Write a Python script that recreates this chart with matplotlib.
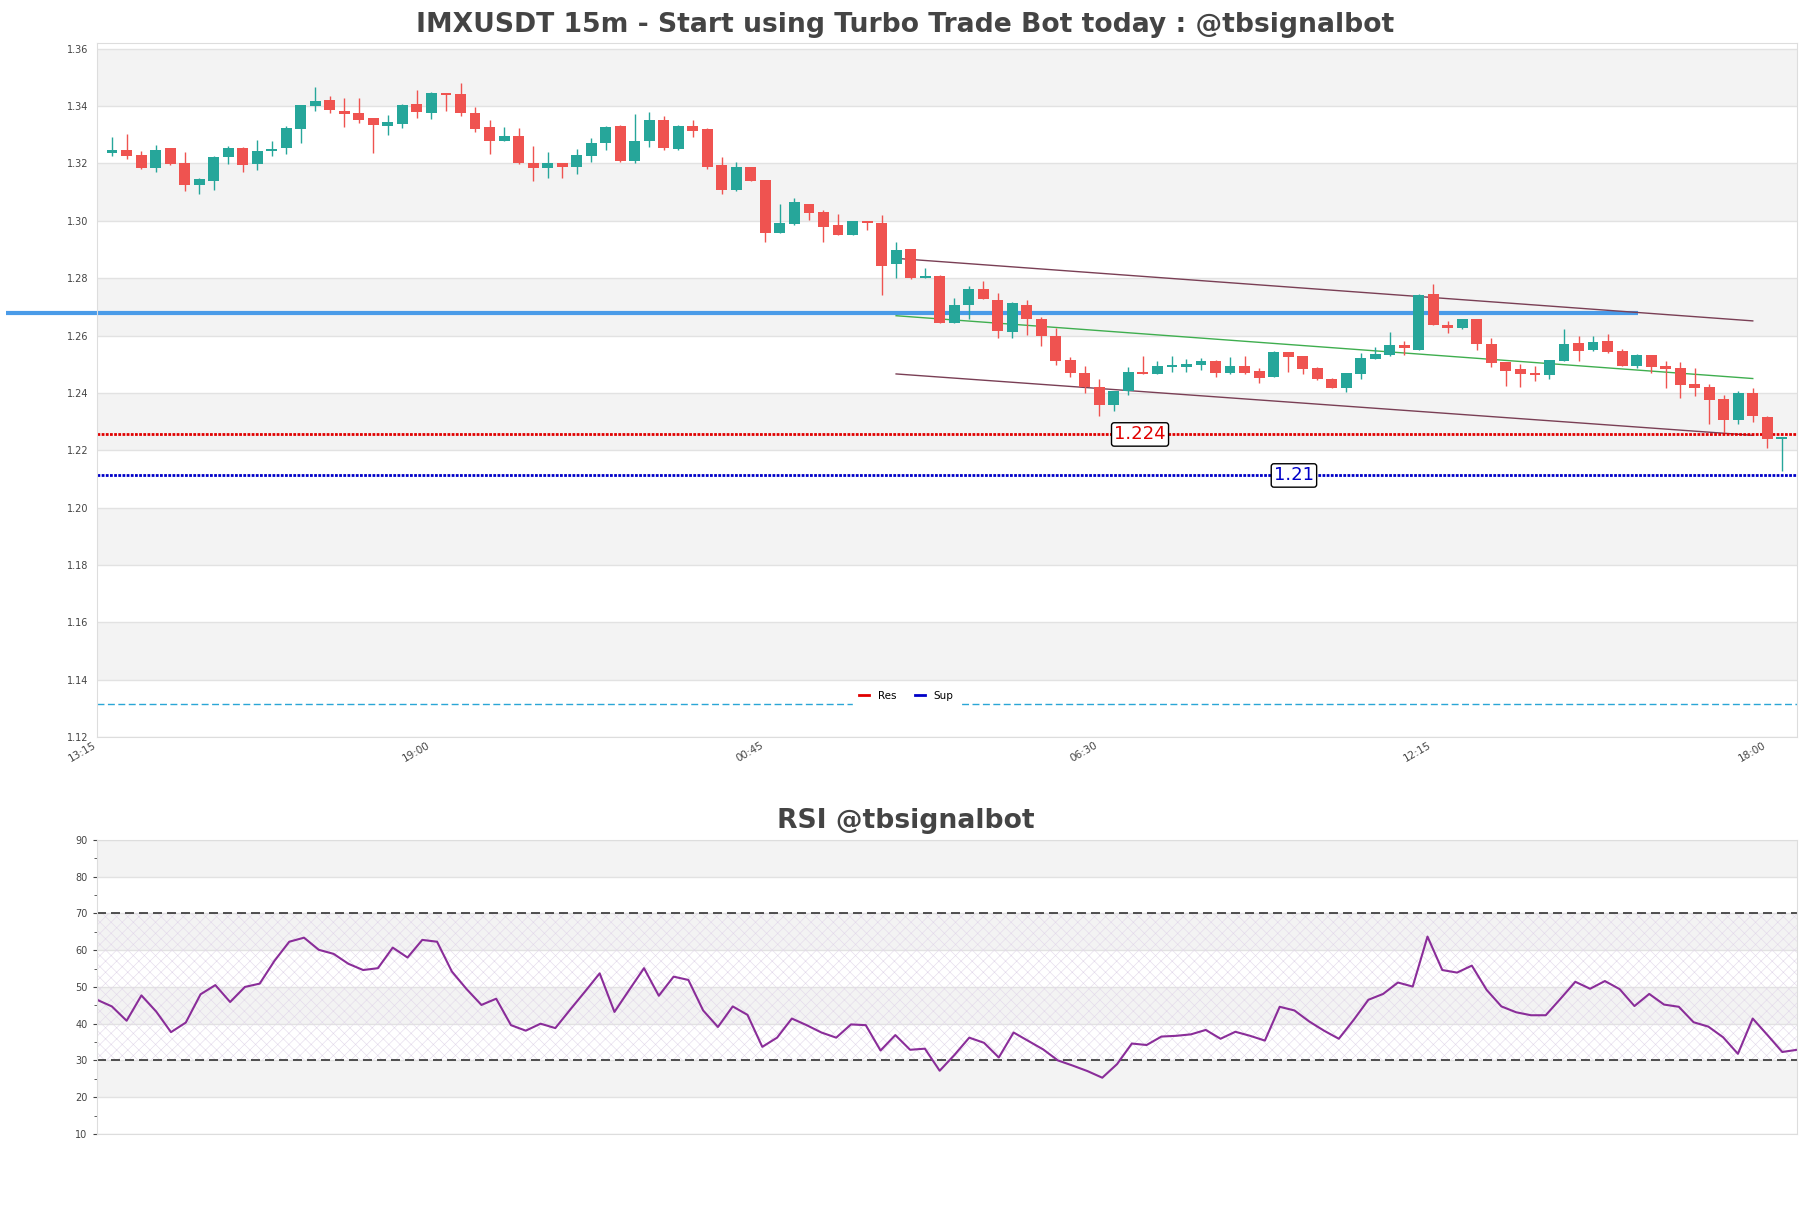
import numpy as np
import matplotlib
matplotlib.use("Agg")
import matplotlib.pyplot as plt
from matplotlib.lines import Line2D

plt.rcParams['font.family'] = ['DejaVu Sans']
plt.rcParams['hatch.linewidth'] = 0.4

# ---- data ----
opens = [1.3236, 1.3246, 1.3228, 1.3184, 1.3253, 1.3200, 1.3124, 1.3138, 1.3222, 1.3253,
         1.3198, 1.3243, 1.3254, 1.3320, 1.3401, 1.3421, 1.3382, 1.3375, 1.3358, 1.3332,
         1.3338, 1.3407, 1.3377, 1.3447, 1.3442, 1.3375, 1.3326, 1.3278, 1.3295, 1.3203,
         1.3184, 1.3200, 1.3187, 1.3226, 1.3271, 1.3329, 1.3207, 1.3278, 1.3350, 1.3250,
         1.3329, 1.3319, 1.3193, 1.3106, 1.3189, 1.3141, 1.2957, 1.2988, 1.3060, 1.3029,
         1.2984, 1.2950, 1.2998, 1.2993, 1.2851, 1.2900, 1.2802, 1.2808, 1.2645, 1.2705,
         1.2763, 1.2725, 1.2612, 1.2708, 1.2659, 1.2600, 1.2514, 1.2468, 1.2420, 1.2359,
         1.2405, 1.2472, 1.2466, 1.2491, 1.2491, 1.2498, 1.2510, 1.2470, 1.2493, 1.2477,
         1.2456, 1.2542, 1.2528, 1.2487, 1.2449, 1.2418, 1.2467, 1.2517, 1.2531, 1.2568,
         1.2551, 1.2746, 1.2638, 1.2626, 1.2656, 1.2570, 1.2507, 1.2483, 1.2469, 1.2463,
         1.2512, 1.2573, 1.2550, 1.2580, 1.2546, 1.2493, 1.2531, 1.2493, 1.2486, 1.2431,
         1.2420, 1.2379, 1.2304, 1.2400, 1.2316, 1.2238]
highs = [1.3291, 1.3303, 1.3244, 1.3263, 1.3253, 1.3239, 1.3150, 1.3227, 1.3261, 1.3256,
         1.3281, 1.3277, 1.3330, 1.3404, 1.3467, 1.3435, 1.3428, 1.3428, 1.3360, 1.3368,
         1.3407, 1.3456, 1.3449, 1.3447, 1.3481, 1.3396, 1.3353, 1.3326, 1.3323, 1.3260,
         1.3239, 1.3202, 1.3251, 1.3290, 1.3329, 1.3335, 1.3371, 1.3378, 1.3364, 1.3335,
         1.3350, 1.3324, 1.3224, 1.3206, 1.3189, 1.3144, 1.3060, 1.3081, 1.3060, 1.3039,
         1.3022, 1.3000, 1.3000, 1.3019, 1.2926, 1.2903, 1.2836, 1.2812, 1.2731, 1.2771,
         1.2790, 1.2747, 1.2716, 1.2725, 1.2663, 1.2626, 1.2524, 1.2493, 1.2448, 1.2406,
         1.2490, 1.2528, 1.2510, 1.2528, 1.2517, 1.2520, 1.2514, 1.2524, 1.2528, 1.2486,
         1.2545, 1.2542, 1.2528, 1.2491, 1.2453, 1.2470, 1.2538, 1.2561, 1.2612, 1.2581,
         1.2745, 1.2778, 1.2651, 1.2659, 1.2656, 1.2593, 1.2507, 1.2500, 1.2493, 1.2514,
         1.2621, 1.2600, 1.2600, 1.2607, 1.2552, 1.2537, 1.2531, 1.2510, 1.2507, 1.2486,
         1.2430, 1.2393, 1.2407, 1.2417, 1.2321, 1.2246]
lows = [1.3226, 1.3216, 1.3181, 1.3170, 1.3194, 1.3103, 1.3092, 1.3106, 1.3198, 1.3170,
        1.3177, 1.3226, 1.3232, 1.3271, 1.3382, 1.3377, 1.3327, 1.3342, 1.3236, 1.3299,
        1.3324, 1.3359, 1.3356, 1.3382, 1.3365, 1.3310, 1.3233, 1.3278, 1.3198, 1.3138,
        1.3148, 1.3148, 1.3162, 1.3205, 1.3246, 1.3205, 1.3201, 1.3259, 1.3248, 1.3248,
        1.3292, 1.3179, 1.3092, 1.3103, 1.3138, 1.2925, 1.2957, 1.2986, 1.3002, 1.2925,
        1.2950, 1.2950, 1.2967, 1.2743, 1.2802, 1.2796, 1.2802, 1.2643, 1.2645, 1.2656,
        1.2726, 1.2592, 1.2592, 1.2603, 1.2563, 1.2498, 1.2456, 1.2401, 1.2318, 1.2338,
        1.2391, 1.2465, 1.2466, 1.2473, 1.2473, 1.2480, 1.2456, 1.2466, 1.2466, 1.2435,
        1.2456, 1.2473, 1.2465, 1.2446, 1.2418, 1.2404, 1.2449, 1.2517, 1.2528, 1.2533,
        1.2551, 1.2636, 1.2608, 1.2622, 1.2551, 1.2491, 1.2425, 1.2421, 1.2442, 1.2449,
        1.2512, 1.2512, 1.2546, 1.2539, 1.2493, 1.2487, 1.2470, 1.2416, 1.2383, 1.2390,
        1.2292, 1.2258, 1.2292, 1.2300, 1.2207, 1.2127]
closes = [1.3246, 1.3226, 1.3184, 1.3246, 1.3198, 1.3124, 1.3147, 1.3224, 1.3253, 1.3194,
          1.3242, 1.3250, 1.3323, 1.3404, 1.3418, 1.3387, 1.3373, 1.3352, 1.3334, 1.3344,
          1.3405, 1.3380, 1.3447, 1.3440, 1.3377, 1.3320, 1.3278, 1.3295, 1.3200, 1.3184,
          1.3203, 1.3187, 1.3228, 1.3270, 1.3326, 1.3207, 1.3280, 1.3353, 1.3253, 1.3329,
          1.3313, 1.3189, 1.3109, 1.3187, 1.3138, 1.2957, 1.2992, 1.3064, 1.3027, 1.2978,
          1.2950, 1.2998, 1.2992, 1.2844, 1.2899, 1.2802, 1.2808, 1.2645, 1.2707, 1.2763,
          1.2726, 1.2615, 1.2712, 1.2656, 1.2598, 1.2511, 1.2468, 1.2419, 1.2359, 1.2406,
          1.2472, 1.2465, 1.2493, 1.2497, 1.2500, 1.2510, 1.2470, 1.2493, 1.2470, 1.2453,
          1.2542, 1.2524, 1.2484, 1.2449, 1.2418, 1.2468, 1.2521, 1.2537, 1.2568, 1.2558,
          1.2742, 1.2636, 1.2626, 1.2656, 1.2570, 1.2505, 1.2477, 1.2466, 1.2463, 1.2514,
          1.2569, 1.2546, 1.2576, 1.2543, 1.2493, 1.2531, 1.2491, 1.2484, 1.2428, 1.2418,
          1.2376, 1.2306, 1.2400, 1.2321, 1.2238, 1.2246]

rsi = [46.5, 44.7, 40.8, 47.7, 43.3, 37.7, 40.3, 48.0, 50.5, 45.9,
       50.0, 50.9, 57.1, 62.3, 63.4, 60.1, 59.0, 56.3, 54.6, 55.1,
       60.7, 58.0, 62.8, 62.3, 54.2, 49.4, 45.1, 46.8, 39.6, 38.1,
       40.0, 38.8, 43.8, 48.7, 53.7, 43.2, 49.2, 55.1, 47.6, 52.8,
       51.9, 43.6, 39.1, 44.7, 42.4, 33.7, 36.2, 41.4, 39.6, 37.6,
       36.2, 39.8, 39.6, 32.7, 36.9, 32.9, 33.2, 27.2, 31.5, 36.2,
       34.8, 30.8, 37.6, 35.3, 33.0, 30.0, 28.6, 27.1, 25.3, 29.0,
       34.6, 34.2, 36.5, 36.7, 37.1, 38.3, 35.9, 37.8, 36.7, 35.4,
       44.6, 43.6, 40.6, 38.1, 35.9, 41.0, 46.5, 48.1, 51.2, 50.1,
       63.7, 54.6, 53.9, 55.8, 49.2, 44.7, 43.1, 42.3, 42.3, 46.8,
       51.4, 49.5, 51.6, 49.4, 44.8, 48.1, 45.2, 44.6, 40.4, 39.2,
       36.3, 31.8, 41.4, 36.9, 32.3, 32.9]

time_ticks = [-1, 22, 45, 68, 91, 114]
time_labels = ["13:15", "19:00", "00:45", "06:30", "12:15", "18:00"]

res_level = 1.2255
res_text = "1.224"
res_text_x = 70.8
sup_level = 1.2112
sup_text = "1.21"
sup_text_x = 81.4
pivot_level = 1.2679
pivot_span = (-7.3, 105.1)
low_level = 1.1314

channel_x = [54, 113]
channel_upper = [1.2869, 1.2651]
channel_mid = [1.2669, 1.2450]
channel_lower = [1.2466, 1.2252]

price_ticks = [1.12, 1.14, 1.16, 1.18, 1.20, 1.22, 1.24, 1.26, 1.28, 1.30, 1.32, 1.34, 1.36]
rsi_ticks = [10, 20, 30, 40, 50, 60, 70, 80, 90]

UP = '#26a69a'
DOWN = '#ef5350'
BAND = '#f3f3f3'
GRID = '#e2e2e2'
TXT = '#444444'

fig = plt.figure(figsize=(18.11, 12.08), dpi=100)
ax = fig.add_axes([0.0536, 0.3899, 0.9387, 0.5745])
ax2 = fig.add_axes([0.0536, 0.0613, 0.9387, 0.2434])

# ---- price chart ----
for k in range(1, len(price_ticks) - 1, 2):
    ax.axhspan(price_ticks[k], price_ticks[k + 1], color=BAND, lw=0, zorder=0)
for t in price_ticks:
    ax.axhline(t, color=GRID, lw=1, zorder=0.5)

idx = np.arange(len(opens))
o = np.array(opens)
c = np.array(closes)
h = np.array(highs)
l = np.array(lows)
cols = np.where(c >= o, UP, DOWN)

ax.plot(pivot_span, [pivot_level, pivot_level], color='#4a9be8', lw=3, zorder=1.5,
        clip_on=False, solid_capstyle='butt')
ax.plot(channel_x, channel_upper, color='#7a3f55', lw=1, zorder=1.6)
ax.plot(channel_x, channel_lower, color='#7a3f55', lw=1, zorder=1.6)
ax.plot(channel_x, channel_mid, color='#3fae4f', lw=1, zorder=1.6)

ax.vlines(idx, l, h, colors=cols, lw=1, zorder=2)
ax.bar(idx, np.maximum(np.abs(c - o), 0.0004), bottom=np.minimum(o, c), width=0.75,
       color=cols, lw=0, zorder=3)

ax.axhline(res_level, color='#e00000', lw=2, dashes=(1, 0.5), zorder=2.5)
ax.axhline(sup_level, color='#0000c8', lw=2, dashes=(1, 0.5), zorder=2.5)
ax.axhline(low_level, color='#2aa6d6', lw=1, ls=(0, (5, 2.5)), zorder=1.5)

box = dict(boxstyle='round,pad=0.15', fc='white', ec='black', lw=1)
ax.text(res_text_x, res_level, res_text, color='#e00000', fontsize=13,
        ha='center', va='center', bbox=box, zorder=5)
ax.text(sup_text_x, sup_level, sup_text, color='#0000c8', fontsize=13,
        ha='center', va='center', bbox=box, zorder=5)

handles = [Line2D([0], [0], color='#e00000', lw=2), Line2D([0], [0], color='#0000c8', lw=2)]
leg = ax.legend(handles, ['Res', 'Sup'], loc='center', bbox_to_anchor=(0.476, 0.059),
                ncol=2, fontsize=7.5, frameon=True, framealpha=1, edgecolor='white',
                handlelength=1.0, columnspacing=1.8, borderpad=0.6)
leg.set_zorder(6)

ax.set_xlim(-1.03, 116.05)
ax.set_ylim(1.12, 1.362)
ax.set_yticks(price_ticks)
ax.set_yticklabels([f"{t:.2f}" for t in price_ticks])
ax.set_xticks(time_ticks)
ax.set_xticklabels(time_labels, rotation=30, ha='right')
ax.tick_params(axis='y', length=0, labelsize=7, colors=TXT, pad=6)
ax.tick_params(axis='x', length=0, labelsize=7.5, colors=TXT, pad=2)
for s in ax.spines.values():
    s.set_color('#dddddd')

# ---- RSI chart ----
for k in range(1, len(rsi_ticks) - 1, 2):
    ax2.axhspan(rsi_ticks[k], rsi_ticks[k + 1], color=BAND, lw=0, zorder=0)
for t in rsi_ticks:
    ax2.axhline(t, color=GRID, lw=1, zorder=0.5)
rx = np.arange(len(rsi))
ax2.fill_between([rx[0], rx[-1]], 30, 70, facecolor='none', edgecolor='#e2d8ea',
                 hatch='xxx', lw=0, zorder=0.8)
ax2.axhline(70, color='#333333', lw=1.2, dashes=(5.4, 3), zorder=1)
ax2.axhline(30, color='#333333', lw=1.2, dashes=(5.4, 3), zorder=1)
ax2.plot(rx, rsi, color='#8a2d99', lw=1.5, zorder=2)

ax2.set_xlim(rx[0], rx[-1])
ax2.set_ylim(10, 90)
ax2.set_yticks(rsi_ticks)
ax2.set_yticks(np.arange(15, 90, 10), minor=True)
ax2.set_xticks([])
ax2.tick_params(axis='y', which='both', length=3, labelsize=7, colors=TXT, pad=4)
ax2.tick_params(axis='y', which='minor', length=2)
for s in ax2.spines.values():
    s.set_color('#dddddd')

fig.text(0.5, 0.979, "IMXUSDT 15m - Start using Turbo Trade Bot today : @tbsignalbot",
         ha='center', va='center', fontsize=19.2, fontweight='bold', color=TXT)
fig.text(0.5, 0.320, "RSI @tbsignalbot", ha='center', va='center',
         fontsize=19.2, fontweight='bold', color=TXT)

fig.savefig("out.png", dpi=100)
